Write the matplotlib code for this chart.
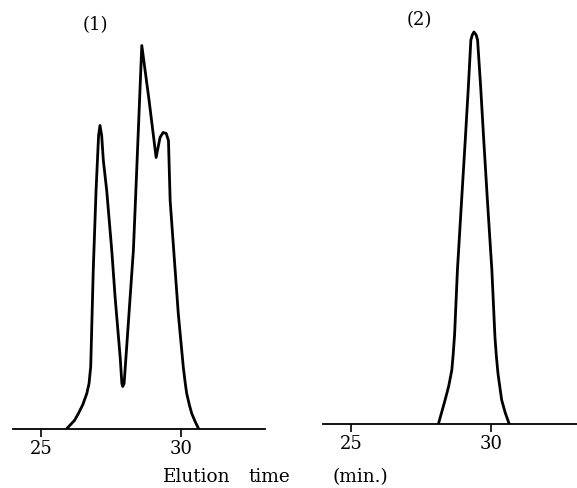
import numpy as np
import matplotlib.pyplot as plt

# elution profiles (time in min, detector response)
t_mix = [25.93, 26.20, 26.34, 26.50, 26.64, 26.72, 26.78, 26.87, 26.97, 27.06,
         27.11, 27.17, 27.23, 27.35, 27.53, 27.65, 27.83, 27.89, 27.92, 27.97,
         28.06, 28.30, 28.36, 28.60, 28.86, 29.11, 29.25, 29.36, 29.47, 29.55,
         29.61, 29.73, 29.90, 30.08, 30.15, 30.20, 30.30, 30.38, 30.50, 30.62]
h_mix = [0, 8, 15, 24, 35, 45, 62, 158, 238, 293,
         303, 293, 268, 238, 178, 131, 71, 45, 42, 45,
         81, 178, 218, 383, 328, 271, 291, 296, 295, 288,
         228, 181, 115, 61, 45, 35, 23, 15, 7, 0]

t_pure = [28.13, 28.25, 28.37, 28.50, 28.61, 28.66, 28.71, 28.81, 28.96, 29.09,
          29.20, 29.29, 29.34, 29.40, 29.48, 29.53, 29.64, 29.75, 29.88, 30.04,
          30.15, 30.20, 30.26, 30.39, 30.52, 30.66]
h_pure = [0, 12, 24, 38, 54, 70, 90, 154, 224, 284,
          337, 384, 389, 392, 389, 384, 337, 284, 224, 154,
          87, 68, 50, 24, 11, 0]

ticks = [25, 30]
panel_labels = ["(1)", "(2)"]
xlabel_words = ["Elution", "time", "(min.)"]

plt.rcParams["font.family"] = ["DejaVu Serif"]

W, H = 577, 488
fig = plt.figure(figsize=(W / 100, H / 100), dpi=100)

def px_axes(left, bottom, width, height):
    return fig.add_axes([left / W, bottom / H, width / W, height / H])

ax1 = px_axes(12.7, 59.5, 252.3, 410)
ax2 = px_axes(323, 64, 254, 410)

for ax, t, h, xl, lab, lab_x, lab_y in [
        (ax1, t_mix, h_mix, (24.0, 32.99), panel_labels[0], 95, 25),
        (ax2, t_pure, h_pure, (24.01, 33.08), panel_labels[1], 419, 20)]:
    ax.plot(t, h, color="black", lw=2.0, solid_joinstyle="round",
            solid_capstyle="round")
    ax.set_xlim(*xl)
    ax.set_ylim(0, 410)
    for s in ("top", "right", "left"):
        ax.spines[s].set_visible(False)
    ax.spines["bottom"].set_linewidth(1.3)
    ax.set_yticks([])
    ax.set_xticks(ticks)
    ax.tick_params(axis="x", direction="out", length=6, width=1.2,
                   labelsize=13, pad=2)
    ax.patch.set_alpha(0)
    fig.text(lab_x / W, 1 - lab_y / H, lab, ha="center", va="center",
             fontsize=13)

# axis title spread out in three words, as typeset on the original figure
for word, cx in zip(xlabel_words, [196.5, 269, 360]):
    fig.text(cx / W, 1 - 477 / H, word, ha="center", va="center",
             fontsize=13.3)

fig.savefig("out.png", dpi=100)
